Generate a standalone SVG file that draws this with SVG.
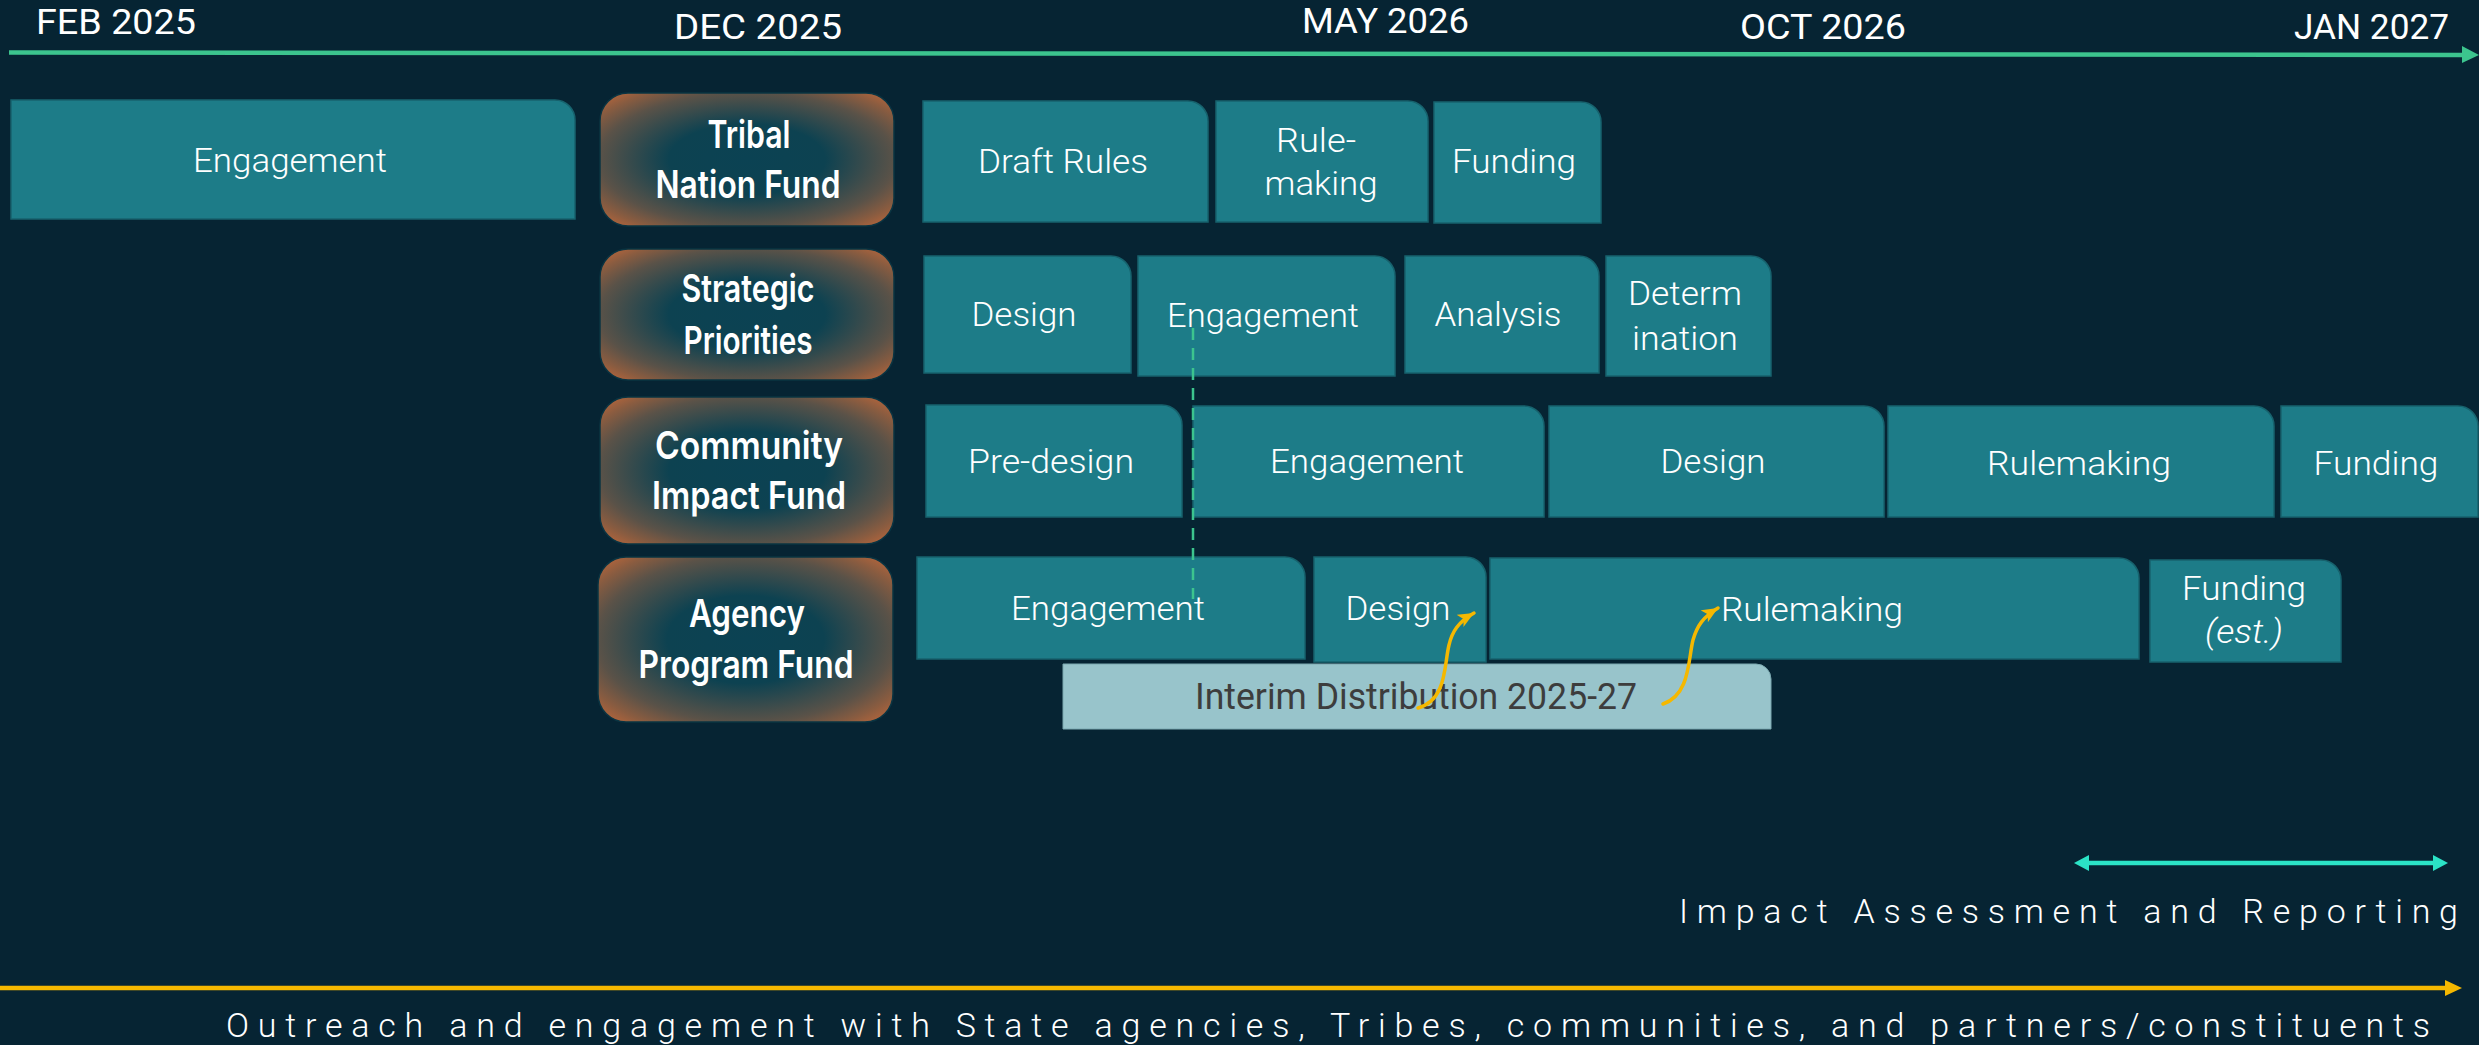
<svg xmlns="http://www.w3.org/2000/svg" width="2479" height="1045" viewBox="0 0 2479 1045">
<defs>
<style>
.bg{fill:#062433}
.ph{fill:#1D7C88;stroke:#17626d;stroke-width:1.5}
.int{fill:#98C4CB;stroke:#7aa8b0;stroke-width:1}
.cat{stroke:#0a3442;stroke-width:1.5}
.pt{font-family:Roboto,"Liberation Sans",sans-serif;font-weight:300;font-size:34px;fill:#ffffff;text-anchor:middle}
.ct{font-family:Inter,Roboto,"Liberation Sans",sans-serif;font-weight:600;font-size:38px;fill:#ffffff;text-anchor:middle}
.dt{font-family:Roboto,"Liberation Sans",sans-serif;font-weight:400;font-size:35px;fill:#ffffff}
.it{font-family:Roboto,"Liberation Sans",sans-serif;font-weight:400;font-size:36px;fill:#3d3d3d;text-anchor:middle}
.lt{font-family:Roboto,"Liberation Sans",sans-serif;font-weight:300;font-size:34px;fill:#ffffff}
.yarr{fill:none;stroke:#F5B800;stroke-width:3.5;stroke-linecap:round}
</style>
<radialGradient id="catg" cx="0.5" cy="0.5" r="0.7">
<stop offset="0" stop-color="#0B4253"/>
<stop offset="0.38" stop-color="#0D4251"/>
<stop offset="0.72" stop-color="#5A5248"/>
<stop offset="0.86" stop-color="#8A5C40"/>
<stop offset="1" stop-color="#C2683A"/>
</radialGradient>
<marker id="yhead" markerUnits="userSpaceOnUse" markerWidth="18" markerHeight="14" refX="16" refY="7" orient="auto">
<path d="M0,0 L16,7 L0,14 L4,7 Z" fill="#F5B800"/>
</marker>
</defs>
<rect class="bg" x="0" y="0" width="2479" height="1045"/>

<g id="timeline-axis">
<line x1="9" y1="52.5" x2="2464" y2="55" stroke="#3CC48E" stroke-width="4.5"/>
<path d="M2462,46 L2479,55 L2462,63 Z" fill="#3CC48E"/>
<text class="dt" x="36" y="34" textLength="160" lengthAdjust="spacingAndGlyphs">FEB 2025</text>
<text class="dt" x="674" y="39" textLength="168" lengthAdjust="spacingAndGlyphs">DEC 2025</text>
<text class="dt" x="1302" y="33" textLength="167" lengthAdjust="spacingAndGlyphs">MAY 2026</text>
<text class="dt" x="1740" y="39" textLength="166" lengthAdjust="spacingAndGlyphs">OCT 2026</text>
<text class="dt" x="2294" y="39" textLength="155" lengthAdjust="spacingAndGlyphs">JAN 2027</text>
</g>

<g id="tribal-nation-fund">
<rect class="cat" x="600" y="93" width="294" height="133" rx="28" fill="url(#catg)"/>
<text class="ct" x="749" y="148" textLength="83" lengthAdjust="spacingAndGlyphs">Tribal</text>
<text class="ct" x="748" y="198" textLength="185" lengthAdjust="spacingAndGlyphs">Nation Fund</text>
</g>
<g id="strategic-priorities">
<rect class="cat" x="600" y="249" width="294" height="131" rx="28" fill="url(#catg)"/>
<text class="ct" x="748" y="302" textLength="133" lengthAdjust="spacingAndGlyphs">Strategic</text>
<text class="ct" x="748" y="354" textLength="129" lengthAdjust="spacingAndGlyphs">Priorities</text>
</g>
<g id="community-impact-fund">
<rect class="cat" x="600" y="397" width="294" height="147" rx="28" fill="url(#catg)"/>
<text class="ct" x="749" y="459" textLength="188" lengthAdjust="spacingAndGlyphs">Community</text>
<text class="ct" x="749" y="509" textLength="194" lengthAdjust="spacingAndGlyphs">Impact Fund</text>
</g>
<g id="agency-program-fund">
<rect class="cat" x="598" y="557" width="295" height="165" rx="28" fill="url(#catg)"/>
<text class="ct" x="747" y="627" textLength="116" lengthAdjust="spacingAndGlyphs">Agency</text>
<text class="ct" x="746" y="678" textLength="215" lengthAdjust="spacingAndGlyphs">Program Fund</text>
</g>

<g id="row1-engagement"><path class="ph" d="M11,100 H555 A20,20 0 0 1 575,120 V219 H11 Z"/><text class="pt" x="290" y="172" textLength="194" lengthAdjust="spacingAndGlyphs">Engagement</text></g>
<g id="row1-draft-rules"><path class="ph" d="M923,101 H1188 A20,20 0 0 1 1208,121 V222 H923 Z"/><text class="pt" x="1063" y="173" textLength="170" lengthAdjust="spacingAndGlyphs">Draft Rules</text></g>
<g id="row1-rulemaking"><path class="ph" d="M1216,101 H1408 A20,20 0 0 1 1428,121 V222 H1216 Z"/><text class="pt" x="1316" y="152" textLength="80" lengthAdjust="spacingAndGlyphs">Rule-</text><text class="pt" x="1321" y="195" textLength="113" lengthAdjust="spacingAndGlyphs">making</text></g>
<g id="row1-funding"><path class="ph" d="M1434,102 H1581 A20,20 0 0 1 1601,122 V223 H1434 Z"/><text class="pt" x="1514" y="173" textLength="124" lengthAdjust="spacingAndGlyphs">Funding</text></g>

<g id="row2-design"><path class="ph" d="M924,256 H1111 A20,20 0 0 1 1131,276 V373 H924 Z"/><text class="pt" x="1024" y="326" textLength="105" lengthAdjust="spacingAndGlyphs">Design</text></g>
<g id="row2-engagement"><path class="ph" d="M1138,256 H1375 A20,20 0 0 1 1395,276 V376 H1138 Z"/><text class="pt" x="1263" y="327" textLength="192" lengthAdjust="spacingAndGlyphs">Engagement</text></g>
<g id="row2-analysis"><path class="ph" d="M1405,256 H1579 A20,20 0 0 1 1599,276 V373 H1405 Z"/><text class="pt" x="1498" y="326" textLength="127" lengthAdjust="spacingAndGlyphs">Analysis</text></g>
<g id="row2-determination"><path class="ph" d="M1606,256 H1751 A20,20 0 0 1 1771,276 V376 H1606 Z"/><text class="pt" x="1685" y="305" textLength="114" lengthAdjust="spacingAndGlyphs">Determ</text><text class="pt" x="1685" y="350" textLength="106" lengthAdjust="spacingAndGlyphs">ination</text></g>

<g id="row3-pre-design"><path class="ph" d="M926,405 H1162 A20,20 0 0 1 1182,425 V517 H926 Z"/><text class="pt" x="1051" y="473" textLength="166" lengthAdjust="spacingAndGlyphs">Pre-design</text></g>
<g id="row3-engagement"><path class="ph" d="M1193,406 H1524 A20,20 0 0 1 1544,426 V517 H1193 Z"/><text class="pt" x="1367" y="473" textLength="194" lengthAdjust="spacingAndGlyphs">Engagement</text></g>
<g id="row3-design"><path class="ph" d="M1549,406 H1864 A20,20 0 0 1 1884,426 V517 H1549 Z"/><text class="pt" x="1713" y="473" textLength="105" lengthAdjust="spacingAndGlyphs">Design</text></g>
<g id="row3-rulemaking"><path class="ph" d="M1888,406 H2254 A20,20 0 0 1 2274,426 V517 H1888 Z"/><text class="pt" x="2079" y="475" textLength="184" lengthAdjust="spacingAndGlyphs">Rulemaking</text></g>
<g id="row3-funding"><path class="ph" d="M2281,406 H2458 A20,20 0 0 1 2478,426 V517 H2281 Z"/><text class="pt" x="2376" y="475" textLength="125" lengthAdjust="spacingAndGlyphs">Funding</text></g>

<g id="row4-engagement"><path class="ph" d="M917,557 H1285 A20,20 0 0 1 1305,577 V659 H917 Z"/><text class="pt" x="1108" y="620" textLength="194" lengthAdjust="spacingAndGlyphs">Engagement</text></g>
<g id="row4-design"><path class="ph" d="M1314,557 H1466 A20,20 0 0 1 1486,577 V662 H1314 Z"/><text class="pt" x="1398" y="620" textLength="105" lengthAdjust="spacingAndGlyphs">Design</text></g>
<g id="row4-rulemaking"><path class="ph" d="M1490,558 H2119 A20,20 0 0 1 2139,578 V659 H1490 Z"/><text class="pt" x="1812" y="621" textLength="182" lengthAdjust="spacingAndGlyphs">Rulemaking</text></g>
<g id="row4-funding-est"><path class="ph" d="M2150,560 H2321 A20,20 0 0 1 2341,580 V662 H2150 Z"/><text class="pt" x="2244" y="600" textLength="124" lengthAdjust="spacingAndGlyphs">Funding</text><text class="pt" x="2244" y="643" font-style="italic" textLength="78" lengthAdjust="spacingAndGlyphs">(est.)</text></g>
<g id="interim-distribution"><path class="int" d="M1063,664 H1756 A15,15 0 0 1 1771,679 V729 H1063 Z"/><text class="it" x="1416" y="709" textLength="442" lengthAdjust="spacingAndGlyphs">Interim Distribution 2025-27</text></g>

<g id="connectors">
<line x1="1193" y1="328" x2="1193" y2="599" stroke="#3CC48E" stroke-width="2.5" stroke-dasharray="12 8"/>
<path class="yarr" d="M1418,708 C1447,700 1444,665 1449,645 C1452,632 1458,622 1474,613" marker-end="url(#yhead)"/>
<path class="yarr" d="M1663,704 C1690,695 1688,660 1693,640 C1697,626 1703,617 1718,608" marker-end="url(#yhead)"/>
</g>

<g id="impact-assessment">
<line x1="2086" y1="863" x2="2436" y2="863" stroke="#2BE3C6" stroke-width="4.5"/>
<path d="M2074,863 L2089,855 L2089,871 Z" fill="#2BE3C6"/>
<path d="M2448,863 L2433,855 L2433,871 Z" fill="#2BE3C6"/>
<text class="lt" x="1679" y="923" textLength="779" lengthAdjust="spacing">Impact Assessment and Reporting</text>
</g>

<g id="outreach">
<line x1="0" y1="988" x2="2448" y2="988" stroke="#F5B800" stroke-width="4.5"/>
<path d="M2445,980 L2462,988 L2445,996 Z" fill="#F5B800"/>
<text class="lt" x="226" y="1037" font-size="33" textLength="2204" lengthAdjust="spacing">Outreach and engagement with State agencies, Tribes, communities, and partners/constituents</text>
</g>
</svg>
